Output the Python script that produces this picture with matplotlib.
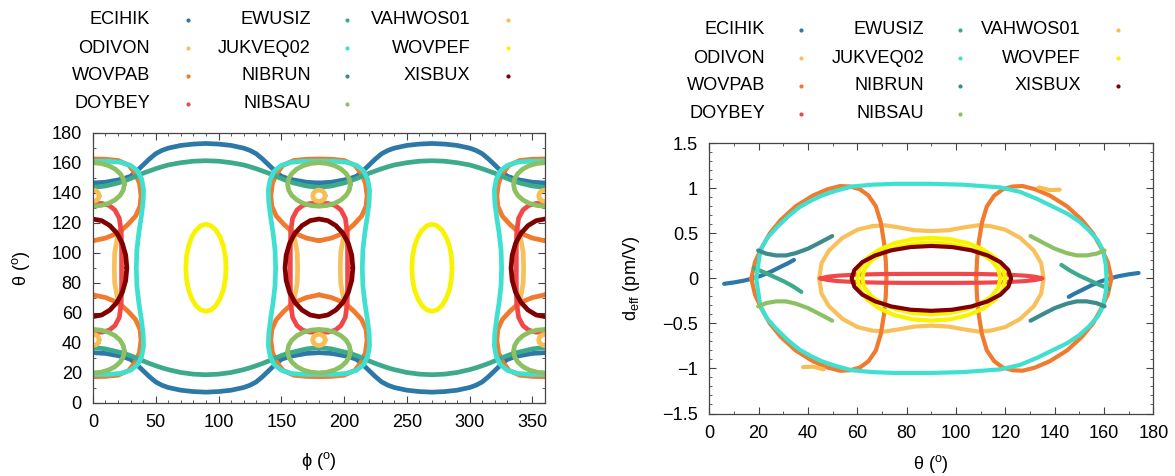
import numpy as np
import matplotlib
matplotlib.use("Agg")
import matplotlib.pyplot as plt
from matplotlib.ticker import MultipleLocator, FuncFormatter

plt.rcParams['font.family'] = ['Liberation Sans', 'DejaVu Sans']
plt.rcParams['mathtext.fontset'] = 'custom'
plt.rcParams['mathtext.rm'] = 'Liberation Sans'
plt.rcParams['mathtext.it'] = 'Liberation Sans:italic'
plt.rcParams['font.size'] = 13.1

# legend order (gnuplot fills the key column by column, 4 rows)
names = ["ECIHIK", "ODIVON", "WOVPAB", "DOYBEY", "EWUSIZ", "JUKVEQ02",
         "NIBRUN", "NIBSAU", "VAHWOS01", "WOVPEF", "XISBUX"]
colors = ["#2c79a8", "#f8c05a", "#f07a2e", "#f04848", "#3daa8b", "#40e0d0",
          "#3d8b8c", "#8cc063", "#f8be55", "#f8f400", "#800000"]

# ---------------- left panel: phase matching loci theta(phi) ----------------
cluster_phi = [0, 180, 360]      # loci repeat around these phi values
band_offsets = [0, 180]          # the bands repeat every 180 deg
ellipse_phi = [90, 270]          # WOVPEF loci

phi_band = [0, 10, 20, 25, 30, 35, 40, 45, 50, 55, 60, 70, 80, 90, 100, 110, 120,
            125, 130, 135, 140, 145, 150, 155, 160, 170, 180]
ecihik_low = [33.5, 33, 31.5, 30.5, 29, 25.5, 21.5, 17.5, 14, 11.8, 10.3, 8.5, 7.6, 7.2,
              7.6, 8.5, 10.3, 11.8, 14, 17.5, 21.5, 25.5, 29, 30.5, 31.5, 33, 33.5]
ecihik_high = [146.5, 147, 148.5, 149.5, 151, 154.5, 158.5, 162.5, 166, 168.2, 169.7, 171.5,
               172.4, 172.8, 172.4, 171.5, 169.7, 168.2, 166, 162.5, 158.5, 154.5, 151, 149.5,
               148.5, 147, 146.5]
ewusiz_low = [37, 36, 34, 33, 31.5, 29.8, 28, 26.3, 24.8, 23.4, 22.2, 20.3, 19.2, 18.8,
              19.2, 20.3, 22.2, 23.4, 24.8, 26.3, 28, 29.8, 31.5, 33, 34, 36, 37]
ewusiz_high = [143.5, 144.5, 146.5, 147.8, 149.5, 151.2, 153, 154.5, 156, 157.3, 158.5, 160,
               161, 161.3, 161, 160, 158.5, 157.3, 156, 154.5, 153, 151.2, 149.5, 147.8,
               146.5, 144.5, 143.5]

jukveq_dphi = [0, 12, 22, 30, 35.5, 38.8, 40.3, 40, 38.5, 36.5, 35, 34.5, 35, 36.5, 38.5,
               40, 40.3, 38.8, 35.5, 30, 22, 12, 0, -12, -22, -30, -35.5, -38.8, -40.3, -40,
               -38.5, -36.5, -35, -34.5, -35, -36.5, -38.5, -40, -40.3, -38.8, -35.5, -30,
               -22, -12, 0]
jukveq_theta = [161, 161, 160.3, 158.2, 154.5, 149, 142, 134, 124, 113, 102, 90, 78, 67, 56,
                46, 38, 31, 25.5, 21.8, 19.7, 19, 19, 19, 19.7, 21.8, 25.5, 31, 38, 46, 56,
                67, 78, 90, 102, 113, 124, 134, 142, 149, 154.5, 158.2, 160.3, 161, 161]

wovpab_dphi = [0, 10, 20.7, 28, 34, 37.5, 38.3, 37, 33.5, 28.6, 20, 10, 0, -10, -20, -28.6,
               -33.5, -37, -38.3, -37.5, -34, -28, -20.7, -10, 0]
wovpab_up = [108, 109.8, 113.5, 119, 124.5, 131, 138, 146.5, 153, 158.3, 161.5, 162.3, 162.5,
             162.3, 161.5, 158.3, 153, 146.5, 138, 131, 124.5, 119, 113.5, 109.8, 108]
wovpab_low = [72, 70.2, 66.5, 61, 55.5, 49, 42, 33.5, 27, 21.7, 18.5, 17.7, 17.5, 17.7, 18.5,
              21.7, 27, 33.5, 42, 49, 55.5, 61, 66.5, 70.2, 72]

doybey_dphi = [0, 7.5, 13, 17.5, 21, 22.5, 22.8, 22.8, 22.8, 22.5, 21, 17.5, 13, 7.5, 0, -7.5,
               -13, -17.5, -21, -22.5, -22.8, -22.8, -22.8, -22.5, -21, -17.5, -13, -7.5, 0]
doybey_theta = [133, 132.8, 131.5, 128.5, 123, 114, 102, 90, 78, 66, 57, 51.5, 48.5, 47.2, 47,
                47.2, 48.5, 51.5, 57, 66, 78, 90, 102, 114, 123, 128.5, 131.5, 132.8, 133]

nibsau_dphi = [25, 24.15, 21.65, 17.68, 12.5, 6.47, 0, -6.47, -12.5, -17.68, -21.65, -24.15,
               -25, -24.15, -21.65, -17.68, -12.5, -6.47, 0, 6.47, 12.5, 17.68, 21.65, 24.15, 25]
nibsau_up = [145.5, 149.25, 152.75, 155.75, 158.06, 159.5, 160, 159.5, 158.06, 155.75, 152.75,
             149.25, 145.5, 141.75, 138.25, 135.25, 132.94, 131.5, 131, 131.5, 132.94, 135.25,
             138.25, 141.75, 145.5]
nibsau_low = [34.5, 38.25, 41.75, 44.75, 47.06, 48.5, 49, 48.5, 47.06, 44.75, 41.75, 38.25,
              34.5, 30.75, 27.25, 24.25, 21.94, 20.5, 20, 20.5, 21.94, 24.25, 27.25, 30.75, 34.5]

vahwos_dphi = [5, 4.33, 2.5, 0, -2.5, -4.33, -5, -4.33, -2.5, 0, 2.5, 4.33, 5]
vahwos_up = [138, 139.9, 141.29, 141.8, 141.29, 139.9, 138, 136.1, 134.71, 134.2, 134.71,
             136.1, 138]
vahwos_low = [42, 43.9, 45.29, 45.8, 45.29, 43.9, 42, 40.1, 38.71, 38.2, 38.71, 40.1, 42]

odivon_wave_theta = [115, 108, 100, 90, 80, 72, 65]
odivon_wave_r = [21, 19, 17.3, 17, 17.3, 19, 21]
odivon_wave_l = [-21, -19, -17.3, -17, -17.3, -19, -21]

wovpef_dphi = [16, 15.5, 13.9, 11.3, 8, 4.1, 0, -4.1, -8, -11.3, -13.9, -15.5, -16, -15.5,
               -13.9, -11.3, -8, -4.1, 0, 4.1, 8, 11.3, 13.9, 15.5, 16]
wovpef_theta = [90, 97.5, 104.5, 110.5, 115.1, 118, 119, 118, 115.1, 110.5, 104.5, 97.5, 90,
                82.5, 75.5, 69.5, 64.9, 62, 61, 62, 64.9, 69.5, 75.5, 82.5, 90]

xisbux_dphi = [27, 26.1, 23.4, 19.1, 13.5, 7, 0, -7, -13.5, -19.1, -23.4, -26.1, -27,
               -26.1, -23.4, -19.1, -13.5, -7, 0, 7, 13.5, 19.1, 23.4, 26.1, 27]
xisbux_theta = [90, 98.4, 106.3, 113, 118.1, 121.4, 122.5, 121.4, 118.1, 113, 106.3, 98.4, 90,
                81.6, 73.7, 67, 61.9, 58.6, 57.5, 58.6, 61.9, 67, 73.7, 81.6, 90]

# ---------------- right panel: d_eff along the loci ----------------
eci_a_t = [6, 10, 14, 17, 21, 25, 29, 32, 34.3]
eci_a_d = [-0.06, -0.045, -0.025, -0.005, 0.03, 0.075, 0.13, 0.17, 0.205]
eci_b_t = [145.7, 148, 151, 155, 159, 163, 166, 170, 174]
eci_b_d = [-0.205, -0.17, -0.13, -0.075, -0.03, 0.005, 0.025, 0.045, 0.06]

odi_t = [44.5, 45.5, 48.5, 54, 60, 66, 71, 77, 83, 90, 97, 103, 109, 114, 120, 126, 131.5,
         134.5, 135.5, 134.5, 131.5, 126, 120, 114, 109, 103, 97, 90, 83, 77, 71, 66, 60, 54,
         48.5, 45.5, 44.5]
odi_d = [0, 0.17, 0.31, 0.45, 0.54, 0.58, 0.59, 0.565, 0.535, 0.525, 0.535, 0.565, 0.59, 0.58,
         0.54, 0.45, 0.31, 0.17, 0, -0.17, -0.31, -0.45, -0.54, -0.58, -0.59, -0.565, -0.535,
         -0.525, -0.535, -0.565, -0.59, -0.58, -0.54, -0.45, -0.31, -0.17, 0]

wpab_a_t = [17, 18.5, 21, 24.5, 29, 35, 42, 48, 53, 57, 61, 64.5, 67.5, 69.5, 70.8, 71.5, 71.8,
            71.5, 70.8, 69.5, 67.5, 64.5, 61, 57, 53, 48, 42, 35, 29, 24.5, 21, 18.5, 17]
wpab_b_t = [163, 161.5, 159, 155.5, 151, 145, 138, 132, 127, 123, 119, 115.5, 112.5, 110.5,
            109.2, 108.5, 108.2, 108.5, 109.2, 110.5, 112.5, 115.5, 119, 123, 127, 132, 138,
            145, 151, 155.5, 159, 161.5, 163]
wpab_d = [0, 0.18, 0.33, 0.5, 0.65, 0.8, 0.92, 0.99, 1.025, 1.02, 0.99, 0.92, 0.8, 0.62, 0.4,
          0.2, 0, -0.2, -0.4, -0.62, -0.8, -0.92, -0.99, -1.02, -1.025, -0.99, -0.92, -0.8,
          -0.65, -0.5, -0.33, -0.18, 0]

doy_t = [45, 48, 52, 60, 70, 80, 90, 100, 110, 120, 128, 132, 135, 132, 128, 120, 110, 100,
         90, 80, 70, 60, 52, 48, 45]
doy_d = [0, 0.018, 0.03, 0.042, 0.048, 0.05, 0.05, 0.05, 0.048, 0.042, 0.03, 0.018, 0,
         -0.018, -0.03, -0.042, -0.048, -0.05, -0.05, -0.05, -0.048, -0.042, -0.03, -0.018, 0]

ewu_a_t = [18, 22, 26, 30, 34, 37.3]
ewu_a_d = [0.115, 0.07, 0.02, -0.03, -0.09, -0.15]
ewu_b_t = [142.7, 146, 150, 154, 158, 162]
ewu_b_d = [0.15, 0.09, 0.03, -0.02, -0.07, -0.115]

juk_t = [19, 20.7, 23.5, 27.5, 32, 36.5, 41, 45.6, 51, 57.7, 66, 75, 90, 103, 118, 126, 133,
         139, 145, 150, 154, 157.5, 159.6, 160.7, 161, 160.7, 159.6, 157.5, 154, 150, 145,
         139, 133, 126, 118, 103, 90, 75, 66, 57.7, 51, 45.6, 41, 36.5, 32, 27.5, 23.5,
         20.7, 19]
juk_d = [0, 0.31, 0.45, 0.57, 0.69, 0.79, 0.86, 0.92, 0.97, 1.02, 1.04, 1.05, 1.05, 1.04,
         1.01, 0.96, 0.88, 0.8, 0.72, 0.63, 0.53, 0.42, 0.31, 0.15, 0, -0.15, -0.31, -0.42,
         -0.53, -0.63, -0.72, -0.8, -0.88, -0.96, -1.01, -1.04, -1.05, -1.05, -1.04, -1.02,
         -0.97, -0.92, -0.86, -0.79, -0.69, -0.57, -0.45, -0.31, 0]

nbr_a_t = [19.8, 23, 27, 31, 35, 40, 45, 49.8]
nbr_a_d = [0.31, 0.275, 0.255, 0.255, 0.28, 0.33, 0.40, 0.47]
nbr_b_t = [130.2, 135, 140, 145, 149, 153, 157, 160.2]
nbr_b_d = [-0.47, -0.40, -0.33, -0.28, -0.255, -0.255, -0.275, -0.31]

nbs_a_t = [19.8, 23, 27, 31, 35, 40, 45, 49.8]
nbs_a_d = [-0.31, -0.275, -0.255, -0.255, -0.28, -0.33, -0.40, -0.47]
nbs_b_t = [130.2, 135, 140, 145, 149, 153, 157, 160.2]
nbs_b_d = [0.47, 0.40, 0.33, 0.28, 0.255, 0.255, 0.275, 0.31]

vah_a_t = [38, 42, 46.4]
vah_a_d = [-0.985, -0.98, -1.01]
vah_b_t = [133.6, 138, 142]
vah_b_d = [1.01, 0.98, 0.985]

wpef_out_t = [120, 119, 116, 111.2, 105, 97.8, 90, 82.2, 75, 68.8, 64, 61, 60, 61, 64, 68.8,
              75, 82.2, 90, 97.8, 105, 111.2, 116, 119, 120]
wpef_out_d = [0, .117, .225, .318, .39, .435, .45, .435, .39, .318, .225, .117, 0, -.122,
              -.235, -.332, -.407, -.454, -.47, -.454, -.407, -.332, -.235, -.122, 0]
wpef_in_t = [118, 117.1, 114.3, 109.8, 104, 97.2, 90, 82.8, 76, 70.2, 65.7, 62.9, 62, 62.9,
             65.7, 70.2, 76, 82.8, 90, 97.2, 104, 109.8, 114.3, 117.1, 118]
wpef_in_d = [0, .104, .2, .283, .346, .386, .40, .386, .346, .283, .2, .104, 0, -.104,
             -.2, -.283, -.346, -.386, -.40, -.386, -.346, -.283, -.2, -.104, 0]

xis_t = [122.3, 121.2, 118, 112.8, 106.2, 98.4, 90, 81.6, 73.8, 67.2, 62, 58.8, 57.7, 58.8,
         62, 67.2, 73.8, 81.6, 90, 98.4, 106.2, 112.8, 118, 121.2, 122.3]
xis_d = [0, .093, .18, .255, .312, .348, .36, .348, .312, .255, .18, .093, 0, -.093, -.18,
         -.255, -.312, -.348, -.36, -.348, -.312, -.255, -.18, -.093, 0]

LW1 = 3.4
LW2 = 3.0
col = dict(zip(names, colors))


def draw(ax, x, y, c, lw, shifts=(0,)):
    for s in shifts:
        ax.plot(np.asarray(x) + s, y, color=c, lw=lw,
                solid_joinstyle='round', solid_capstyle='round')


fig = plt.figure(figsize=(11.75, 4.76), dpi=100)
ax1 = fig.add_axes([0.0791, 0.1534, 0.3847, 0.5679])
ax2 = fig.add_axes([0.6037, 0.1313, 0.3779, 0.5677])

# left panel, same plotting order as the key
draw(ax1, phi_band, ecihik_low, col["ECIHIK"], LW1, band_offsets)
draw(ax1, phi_band, ecihik_high, col["ECIHIK"], LW1, band_offsets)
draw(ax1, odivon_wave_r, odivon_wave_theta, col["ODIVON"], LW1, cluster_phi)
draw(ax1, odivon_wave_l, odivon_wave_theta, col["ODIVON"], LW1, cluster_phi)
draw(ax1, wovpab_dphi, wovpab_up, col["WOVPAB"], LW1, cluster_phi)
draw(ax1, wovpab_dphi, wovpab_low, col["WOVPAB"], LW1, cluster_phi)
draw(ax1, doybey_dphi, doybey_theta, col["DOYBEY"], LW1, cluster_phi)
draw(ax1, phi_band, ewusiz_low, col["EWUSIZ"], LW1, band_offsets)
draw(ax1, phi_band, ewusiz_high, col["EWUSIZ"], LW1, band_offsets)
draw(ax1, jukveq_dphi, jukveq_theta, col["JUKVEQ02"], LW1, cluster_phi)
draw(ax1, nibsau_dphi, nibsau_up, col["NIBSAU"], LW1, cluster_phi)
draw(ax1, nibsau_dphi, nibsau_low, col["NIBSAU"], LW1, cluster_phi)
draw(ax1, vahwos_dphi, vahwos_up, col["VAHWOS01"], LW1, cluster_phi)
draw(ax1, vahwos_dphi, vahwos_low, col["VAHWOS01"], LW1, cluster_phi)
draw(ax1, wovpef_dphi, wovpef_theta, col["WOVPEF"], LW1, ellipse_phi)
draw(ax1, xisbux_dphi, xisbux_theta, col["XISBUX"], LW1, cluster_phi)

# right panel
draw(ax2, eci_a_t, eci_a_d, col["ECIHIK"], LW2)
draw(ax2, eci_b_t, eci_b_d, col["ECIHIK"], LW2)
draw(ax2, odi_t, odi_d, col["ODIVON"], LW2)
draw(ax2, wpab_a_t, wpab_d, col["WOVPAB"], LW2)
draw(ax2, wpab_b_t, wpab_d, col["WOVPAB"], LW2)
draw(ax2, doy_t, doy_d, col["DOYBEY"], LW2)
draw(ax2, ewu_a_t, ewu_a_d, col["EWUSIZ"], LW2)
draw(ax2, ewu_b_t, ewu_b_d, col["EWUSIZ"], LW2)
draw(ax2, juk_t, juk_d, col["JUKVEQ02"], LW2)
draw(ax2, nbr_a_t, nbr_a_d, col["NIBRUN"], LW2)
draw(ax2, nbr_b_t, nbr_b_d, col["NIBRUN"], LW2)
draw(ax2, nbs_a_t, nbs_a_d, col["NIBSAU"], LW2)
draw(ax2, nbs_b_t, nbs_b_d, col["NIBSAU"], LW2)
draw(ax2, vah_a_t, vah_a_d, col["VAHWOS01"], LW2)
draw(ax2, vah_b_t, vah_b_d, col["VAHWOS01"], LW2)
draw(ax2, wpef_out_t, wpef_out_d, col["WOVPEF"], LW2)
draw(ax2, wpef_in_t, wpef_in_d, col["WOVPEF"], LW2)
draw(ax2, xis_t, xis_d, col["XISBUX"], LW2)

ax1.set_xlim(0, 360)
ax1.set_ylim(0, 180)
ax1.xaxis.set_major_locator(MultipleLocator(50))
ax1.xaxis.set_minor_locator(MultipleLocator(10))
ax1.yaxis.set_major_locator(MultipleLocator(20))
ax1.yaxis.set_minor_locator(MultipleLocator(10))
ax1.set_xlabel("\u03d5 ($^{\\rm o}$)")
ax1.set_ylabel("\u03b8 ($^{\\rm o}$)")
ax1.xaxis.set_label_coords(0.5, -0.175)
ax1.yaxis.set_label_coords(-0.134, 0.5)

ax2.set_xlim(0, 180)
ax2.set_ylim(-1.5, 1.5)
ax2.xaxis.set_major_locator(MultipleLocator(20))
ax2.xaxis.set_minor_locator(MultipleLocator(10))
ax2.yaxis.set_major_locator(MultipleLocator(0.5))
ax2.yaxis.set_minor_locator(MultipleLocator(0.1))
ax2.yaxis.set_major_formatter(FuncFormatter(lambda v, p: ("%g" % v).replace("-", "\u2212")))
ax2.set_xlabel("\u03b8 ($^{\\rm o}$)")
ax2.set_ylabel("d$_{\\rm eff}$ (pm/V)")
ax2.xaxis.set_label_coords(0.5, -0.148)
ax2.yaxis.set_label_coords(-0.152, 0.5)

for ax in (ax1, ax2):
    ax.tick_params(which='both', direction='in', top=True, right=True, pad=8,
                   labelsize=13.1, color='#444444')
    ax.tick_params(which='major', length=5)
    ax.tick_params(which='minor', length=2.5)
    for sp in ax.spines.values():
        sp.set_color('#444444')
        sp.set_linewidth(0.9)

# keys above each panel
overlay = fig.add_axes([0, 0, 1, 1])
overlay.set_xlim(0, 1175)
overlay.set_ylim(476, 0)
overlay.axis('off')
keys = [([150, 310.7, 470.7], [188.3, 347.3, 508.3], [20, 48.3, 76, 104]),
        ([765, 924, 1081], [800.7, 960, 1118.3], [30, 58.3, 86, 114])]
for text_x, dot_x, row_y in keys:
    for i, name in enumerate(names):
        c, r = divmod(i, 4)
        overlay.text(text_x[c], row_y[r], name, ha='right', va='center', fontsize=13.1)
        overlay.plot(dot_x[c], row_y[r], 'o', ms=3, color=colors[i], mec='none')

fig.savefig("out.png", dpi=100)
